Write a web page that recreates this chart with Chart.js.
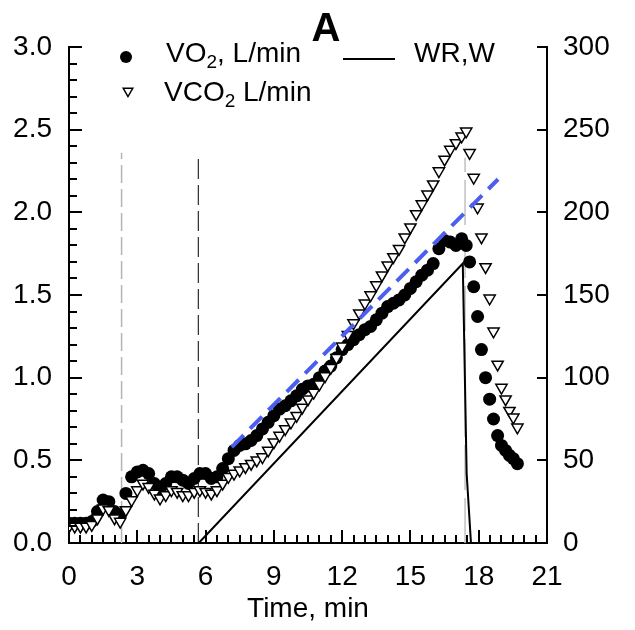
<!DOCTYPE html>
<html>
<head>
<meta charset="utf-8">
<script src="https://cdn.jsdelivr.net/npm/chart.js@4"></script>
<style>
  html, body { margin: 0; padding: 0; background: #fff; }
</style>
</head>
<body>
<canvas id="chart" width="635" height="630"></canvas>
<script>
// Exercise phase, sampled every 15 s (min)
const times = [0, 0.25, 0.5, 0.75, 1, 1.25, 1.5, 1.75, 2, 2.25, 2.5, 2.75, 3, 3.25, 3.5, 3.75,
  4, 4.25, 4.5, 4.75, 5, 5.25, 5.5, 5.75, 6, 6.25, 6.5, 6.75, 7, 7.25, 7.5, 7.75, 8, 8.25,
  8.5, 8.75, 9, 9.25, 9.5, 9.75, 10, 10.25, 10.5, 10.75, 11, 11.25, 11.5, 11.75, 12, 12.25,
  12.5, 12.75, 13, 13.25, 13.5, 13.75, 14, 14.25, 14.5, 14.75, 15, 15.25, 15.5, 15.75, 16,
  16.25, 16.5, 16.75, 17, 17.25, 17.45];

const vo2 = [0.12, 0.12, 0.12, 0.12, 0.13, 0.19, 0.26, 0.25, 0.19, 0.17,
  0.30, 0.40, 0.43, 0.44, 0.42, 0.36, 0.32, 0.36, 0.40, 0.40,
  0.38, 0.36, 0.39, 0.42, 0.42, 0.39, 0.40, 0.45, 0.51, 0.56,
  0.59, 0.60, 0.62, 0.65, 0.69, 0.73, 0.77, 0.81, 0.83, 0.86,
  0.89, 0.93, 0.95, 0.96, 1.00, 1.04, 1.07, 1.12, 1.17, 1.20,
  1.23, 1.26, 1.29, 1.31, 1.35, 1.39, 1.43, 1.45, 1.47, 1.50,
  1.54, 1.58, 1.62, 1.65, 1.69, 1.78, 1.83, 1.82, 1.80, 1.84,
  1.80];

const vco2 = [0.10, 0.10, 0.10, 0.10, 0.11, 0.15, 0.21, 0.20, 0.15, 0.13,
  0.20, 0.26, 0.32, 0.36, 0.34, 0.30, 0.27, 0.29, 0.32, 0.31,
  0.29, 0.29, 0.31, 0.32, 0.31, 0.30, 0.32, 0.36, 0.40, 0.42,
  0.44, 0.46, 0.48, 0.50, 0.52, 0.56, 0.61, 0.65, 0.69, 0.73,
  0.77, 0.82, 0.87, 0.91, 0.96, 1.01, 1.06, 1.12, 1.19, 1.26,
  1.33, 1.39, 1.45, 1.50, 1.56, 1.62, 1.68, 1.73, 1.78, 1.85,
  1.91, 1.99, 2.05, 2.11, 2.17, 2.25, 2.32, 2.38, 2.42, 2.46,
  2.49];

// Recovery phase, every 10 s
const recoveryTimes = [17.6, 17.78, 17.95, 18.12, 18.3, 18.48, 18.65, 18.83, 19.0, 19.18, 19.35, 19.52, 19.7];
const vo2Recovery = [1.70, 1.55, 1.37, 1.17, 1.00, 0.87, 0.75, 0.65, 0.59, 0.56, 0.53, 0.51, 0.48];
const vco2Recovery = [2.36, 2.21, 2.03, 1.85, 1.67, 1.48, 1.28, 1.08, 0.94, 0.87, 0.80, 0.76, 0.70];

// Work rate ramp (W)
const wrTimes = [5.7, 17.3, 17.47, 17.66];
const wrWatts = [0, 169, 42, 0];

// Extrapolated VO2 slope (blue dashed)
const slopeTimes = [7.15, 18.85];
const slopeValues = [0.58, 2.2];

// Phase markers (vertical dashed lines)
const markerTimes = [2.31, 5.68, 17.4];
const markerTops = [2.36, 2.33, 2.33];

const timeTicks = [0, 3, 6, 9, 12, 15, 18, 21];
const vTicks = [0, 0.5, 1, 1.5, 2, 2.5, 3];
const wrTicks = [0, 50, 100, 150, 200, 250, 300];
const timeMinorStep = 0.5;
const vMinorStep = 0.1;

const FONT = '"Liberation Sans", Arial, sans-serif';
Chart.defaults.font.family = FONT;
Chart.defaults.color = '#000';

const pts = (xs, ys) => xs.map((t, i) => ({ x: t, y: ys[i] }));

// inward tick marks, major and minor
const tickMarks = {
  id: 'tickMarks',
  afterDraw(chart) {
    const { ctx, chartArea: a, scales: { x, y, y2 } } = chart;
    ctx.save();
    ctx.strokeStyle = '#000';
    ctx.lineWidth = 2;
    ctx.beginPath();
    for (let v = 0; v <= 21 + 1e-6; v += timeMinorStep) {
      const px = Math.round(x.getPixelForValue(v));
      const len = timeTicks.some(t => Math.abs(t - v) < 1e-6) ? 13 : 8;
      ctx.moveTo(px, a.bottom);
      ctx.lineTo(px, a.bottom - len);
    }
    for (let v = 0; v <= 3 + 1e-6; v += vMinorStep) {
      const py = Math.round(y.getPixelForValue(v));
      const len = vTicks.some(t => Math.abs(t - v) < 1e-6) ? 13 : 8;
      ctx.moveTo(a.left, py);
      ctx.lineTo(a.left + len, py);
    }
    wrTicks.forEach(v => {
      const py = Math.round(y2.getPixelForValue(v));
      ctx.moveTo(a.right, py);
      ctx.lineTo(a.right - 10, py);
    });
    ctx.stroke();
    ctx.restore();
  }
};

// text with subscripts: parts = [[text, isSub], ...]
function drawRich(ctx, parts, x, y) {
  parts.forEach(([txt, sub]) => {
    ctx.font = sub ? '19px ' + FONT : '28px ' + FONT;
    ctx.fillText(txt, x, sub ? y + 6 : y);
    x += ctx.measureText(txt).width;
  });
}

// Title "A" and the legend
const legendTitle = {
  id: 'legendTitle',
  afterDraw(chart) {
    const ctx = chart.ctx;
    ctx.save();
    ctx.fillStyle = '#000';
    ctx.strokeStyle = '#000';
    ctx.textBaseline = 'alphabetic';
    ctx.textAlign = 'center';
    ctx.font = 'bold 40px ' + FONT;
    ctx.fillText('A', 326, 41);

    ctx.textAlign = 'left';
    Chart.helpers.drawPoint(ctx, { pointStyle: 'circle', radius: 6, rotation: 0, borderWidth: 0 }, 126, 57);
    drawRich(ctx, [['VO', 0], ['2', 1], [', L/min', 0]], 166, 62);

    ctx.fillStyle = '#fff';
    ctx.lineWidth = 1.5;
    Chart.helpers.drawPoint(ctx, { pointStyle: 'triangle', radius: 5.5, rotation: 180, borderWidth: 1.5 }, 128, 91);
    ctx.fillStyle = '#000';
    drawRich(ctx, [['VCO', 0], ['2', 1], [' L/min', 0]], 164, 101);

    ctx.lineWidth = 2;
    ctx.beginPath();
    ctx.moveTo(343, 59);
    ctx.lineTo(395, 59);
    ctx.stroke();
    drawRich(ctx, [['WR,W', 0]], 414, 62);
    ctx.restore();
  }
};

const markerColors = ['#b4b4b4', '#000', '#c0c0c0'];
const markerWidths = [1.5, 1, 1.5];
const markerDashes = [[18, 6], [20, 6], [45, 8]];

const markerSets = markerTimes.map((t, i) => ({
  data: [{ x: t, y: 0 }, { x: t, y: markerTops[i] }],
  showLine: true,
  borderColor: markerColors[i],
  borderWidth: markerWidths[i],
  borderDash: markerDashes[i],
  pointRadius: 0,
  order: 4
}));

const ctx = document.getElementById('chart').getContext('2d');
new Chart(ctx, {
  type: 'scatter',
  data: {
    datasets: [
      {
        label: 'slope',
        data: pts(slopeTimes, slopeValues),
        showLine: true,
        borderColor: '#4a5ff2',
        borderWidth: 4,
        borderDash: [17, 9],
        pointRadius: 0,
        order: 0
      },
      {
        label: 'VCO2 L/min',
        data: pts(times, vco2).concat(pts(recoveryTimes, vco2Recovery)),
        pointStyle: 'triangle',
        rotation: 180,
        pointRadius: 6.5,
        backgroundColor: '#fff',
        borderColor: '#000',
        borderWidth: 1.5,
        order: 1
      },
      {
        label: 'VO2, L/min',
        data: pts(times, vo2).concat(pts(recoveryTimes, vo2Recovery)),
        pointStyle: 'circle',
        pointRadius: 6.5,
        backgroundColor: '#000',
        borderColor: '#000',
        borderWidth: 0,
        order: 2
      },
      {
        label: 'WR,W',
        data: pts(wrTimes, wrWatts),
        yAxisID: 'y2',
        showLine: true,
        borderColor: '#000',
        borderWidth: 2,
        pointRadius: 0,
        order: 3
      },
      ...markerSets
    ]
  },
  options: {
    responsive: false,
    animation: false,
    events: [],
    layout: { padding: { top: 47 } },
    plugins: {
      legend: { display: false },
      tooltip: { enabled: false }
    },
    scales: {
      x: {
        type: 'linear',
        min: 0,
        max: 21,
        afterBuildTicks: s => { s.ticks = timeTicks.map(v => ({ value: v })); },
        afterFit: s => { s.height = 87; },
        ticks: { font: { size: 28 }, padding: 17, maxRotation: 0 },
        grid: { drawOnChartArea: false, drawTicks: false },
        border: { color: '#000', width: 2 },
        title: { display: true, text: 'Time, min', font: { size: 28 }, padding: { top: 4, bottom: 4 } }
      },
      y: {
        position: 'left',
        min: 0,
        max: 3,
        afterBuildTicks: s => { s.ticks = vTicks.map(v => ({ value: v })); },
        afterFit: s => { s.width = 69; },
        ticks: { font: { size: 28 }, padding: 17, callback: v => v.toFixed(1) },
        grid: { drawOnChartArea: false, drawTicks: false },
        border: { color: '#000', width: 2 }
      },
      y2: {
        position: 'right',
        min: 0,
        max: 300,
        afterBuildTicks: s => { s.ticks = wrTicks.map(v => ({ value: v })); },
        afterFit: s => { s.width = 88; },
        ticks: { font: { size: 28 }, padding: 16 },
        grid: { drawOnChartArea: false, drawTicks: false },
        border: { color: '#000', width: 2 }
      }
    }
  },
  plugins: [tickMarks, legendTitle]
});
</script>
</body>
</html>
